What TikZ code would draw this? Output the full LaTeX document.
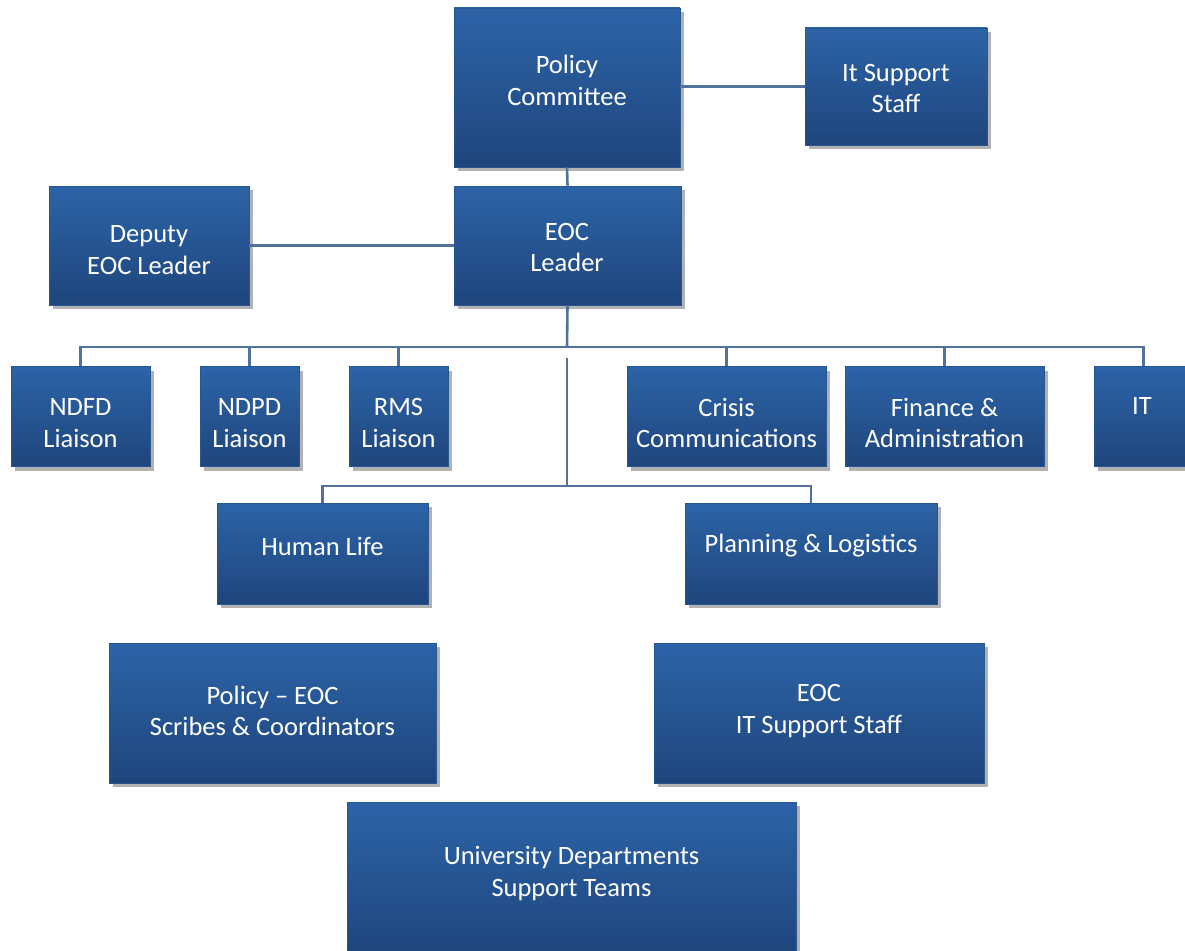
\documentclass[tikz,border=0pt]{standalone}
\usepackage{fontspec}
\setmainfont{Carlito}
\usetikzlibrary{shadows}
\definecolor{boxtop}{RGB}{44,100,168}
\definecolor{boxbot}{RGB}{31,69,124}
\definecolor{boxedge}{RGB}{40,86,148}
\definecolor{linec}{RGB}{82,114,156}
\tikzset{
  box/.style={rectangle, draw=boxedge, line width=0.8pt, top color=boxtop, bottom color=boxbot,
    drop shadow={shadow xshift=4pt, shadow yshift=-4pt, fill=black, opacity=0.3}, inner sep=0pt},
  lbl/.style={text=white, font=\fontsize{26.5}{31.5}\selectfont, align=center, inner sep=0pt},
  conn/.style={draw=linec, line width=2.6pt}
}
\begin{document}
\begin{tikzpicture}[x=1pt, y=-1pt]
\useasboundingbox (0,0) rectangle (1185,950);
\clip (0,0) rectangle (1185,950);
\fill[white] (0,0) rectangle (1185,950);

\coordinate (bus1) at (567,347);
\coordinate (v2top) at (567,358);
\coordinate (bus2) at (567,486);

% boxes
\node[box, minimum width=226pt, minimum height=159pt] (pc) at (567,87.5) {};
\node[box, minimum width=182pt, minimum height=117pt] (its) at (896,86.5) {};
\node[box, minimum width=227pt, minimum height=119pt] (eoc) at (567.5,245.5) {};
\node[box, minimum width=200pt, minimum height=119pt] (dep) at (149,245.5) {};
\node[box, minimum width=139pt, minimum height=100pt] (ndfd) at (80.5,416.5) {};
\node[box, minimum width=99pt, minimum height=100pt] (ndpd) at (249.5,416.5) {};
\node[box, minimum width=99pt, minimum height=100pt] (rms) at (398.5,416.5) {};
\node[box, minimum width=199pt, minimum height=100pt] (cri) at (726.5,416.5) {};
\node[box, minimum width=199pt, minimum height=100pt] (fin) at (944.5,416.5) {};
\node[box, minimum width=99pt, minimum height=100pt] (it) at (1143.5,416.5) {};
\node[box, minimum width=211pt, minimum height=101pt] (hl) at (322.5,553.5) {};
\node[box, minimum width=252pt, minimum height=101pt] (pl) at (811,553.5) {};
\node[box, minimum width=327pt, minimum height=140pt] (scr) at (272.5,713) {};
\node[box, minimum width=330pt, minimum height=140pt] (eits) at (819,713) {};
\node[box, minimum width=449pt, minimum height=153pt] (uni) at (571.5,878.5) {};

% connectors
\draw[conn] (pc.east |- its.west) -- (its.west);
\draw[conn] (pc.south) -- (eoc.north);
\draw[conn] (dep.east) -- (eoc.west |- dep.east);
\draw[conn] (eoc.south) -- (bus1);
\draw[conn] (ndfd.north) |- (bus1) -| (it.north);
\draw[conn] (ndpd.north) -- (ndpd.north |- bus1);
\draw[conn] (rms.north) -- (rms.north |- bus1);
\draw[conn] (cri.north) -- (cri.north |- bus1);
\draw[conn] (fin.north) -- (fin.north |- bus1);
\draw[conn] (v2top) -- (bus2);
\draw[conn] (hl.north) |- (bus2) -| (pl.north);

% labels
\node[lbl] (pc-t) at (567,80.5) {Policy\\Committee};
\node[lbl] (its-t) at (896,88.5) {It Support\\Staff};
\node[lbl] (eoc-t) at (567,247.5) {EOC\\Leader};
\node[lbl] (dep-t) at (149,250) {Deputy\\EOC Leader};
\node[lbl] (ndfd-t) at (80.5,423) {NDFD\\Liaison};
\node[lbl] (ndpd-t) at (249.5,423) {NDPD\\Liaison};
\node[lbl] (rms-t) at (398.5,423) {RMS\\Liaison};
\node[lbl] (cri-t) at (726.5,423) {Crisis\\Communications};
\node[lbl] (fin-t) at (944.5,423) {Finance \&\\Administration};
\node[lbl] (it-t) at (1142,406) {IT};
\node[lbl] (hl-t) at (322.5,546) {Human Life};
\node[lbl] (pl-t) at (811,546) {Planning \& Logistics};
\node[lbl] (scr-t) at (272.5,711) {Policy – EOC\\Scribes \& Coordinators};
\node[lbl] (eits-t) at (819,711) {EOC\\IT Support Staff};
\node[lbl] (uni-t) at (571.5,873.5) {University Departments\\Support Teams};
\end{tikzpicture}
\end{document}
